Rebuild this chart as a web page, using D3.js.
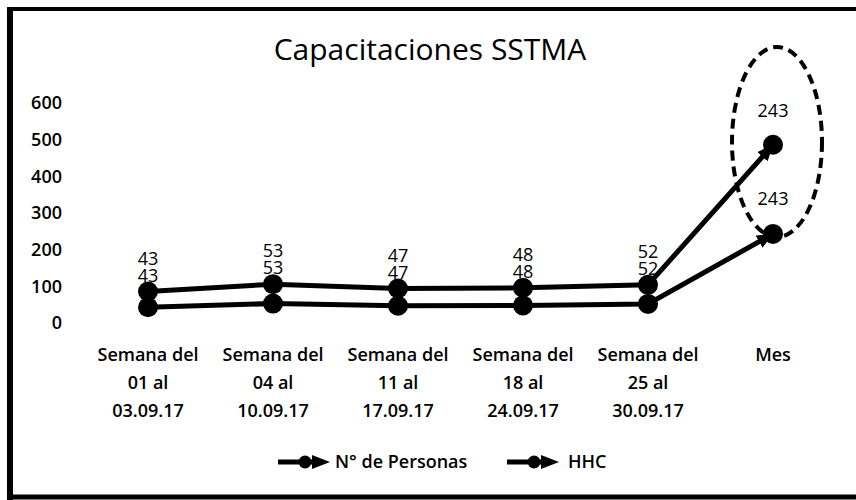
<!DOCTYPE html>
<html>
<head>
<meta charset="utf-8">
<script src="https://cdn.jsdelivr.net/npm/d3@7"></script>
<style>
  html, body { margin: 0; padding: 0; background: #fff; }
  svg { display: block; font-family: "Open Sans", sans-serif; }
</style>
</head>
<body>
<div id="chart"></div>
<script>
// datos
const categories = [
  ['Semana del', '01 al', '03.09.17'],
  ['Semana del', '04 al', '10.09.17'],
  ['Semana del', '11 al', '17.09.17'],
  ['Semana del', '18 al', '24.09.17'],
  ['Semana del', '25 al', '30.09.17'],
  ['Mes']
]
const personas = [43, 53, 47, 48, 52, 243]
const hhc = [43, 53, 47, 48, 52, 243]
const seriesNames = ['N° de Personas', 'HHC']
const yTicks = [0, 100, 200, 300, 400, 500, 600]

const width = 856
const height = 500

const svg = d3.select('#chart').append('svg')
  .attr('width', width)
  .attr('height', height)

// flecha para el final de las lineas
const defs = svg.append('defs')
defs.append('marker')
  .attr('id', 'arrow')
  .attr('viewBox', '0 0 16 14')
  .attr('refX', 16)
  .attr('refY', 7)
  .attr('markerWidth', 16)
  .attr('markerHeight', 14)
  .attr('markerUnits', 'userSpaceOnUse')
  .attr('orient', 'auto')
  .append('path')
  .attr('d', 'M0,0 L16,7 L0,14 Z')
  .attr('fill', '#000')

// marco
svg.append('line').attr('x1', 7).attr('x2', width).attr('y1', 9).attr('y2', 9)
  .attr('stroke', '#000').attr('stroke-width', 4)
svg.append('line').attr('x1', 10).attr('x2', 10).attr('y1', 7).attr('y2', height)
  .attr('stroke', '#000').attr('stroke-width', 6)
svg.append('line').attr('x1', 7).attr('x2', width).attr('y1', 497).attr('y2', 497)
  .attr('stroke', '#000').attr('stroke-width', 5)

// titulo
svg.append('text')
  .attr('x', 430)
  .attr('y', 60)
  .attr('text-anchor', 'middle')
  .attr('font-size', 30)
  .text('Capacitaciones SSTMA')

const x = d3.scaleBand()
  .domain(d3.range(categories.length))
  .range([85.5, 835.5])
const cx = i => x(i) + x.bandwidth() / 2

const y = d3.scaleLinear()
  .domain([0, 600])
  .range([323, 103])

// eje Y (solo etiquetas)
svg.append('g')
  .attr('font-weight', 600)
  .selectAll('text')
  .data(yTicks)
  .join('text')
  .attr('x', 62)
  .attr('y', d => y(d))
  .attr('dy', '0.35em')
  .attr('text-anchor', 'end')
  .attr('font-size', 18)
  .text(d => d)

// eje X (etiquetas multilinea)
const catG = svg.append('g').attr('font-weight', 600)
categories.forEach((lines, i) => {
  const t = catG.append('text')
    .attr('text-anchor', 'middle')
    .attr('font-size', 18)
  lines.forEach((ln, j) => {
    t.append('tspan')
      .attr('x', cx(i))
      .attr('y', 361 + j * 28)
      .text(ln)
  })
})

// lineas apiladas
const rows = personas.map((p, i) => ({ i, personas: p, hhc: hhc[i] }))
const stacked = d3.stack().keys(['personas', 'hhc'])(rows)

const line = d3.line()
  .x(d => cx(d.data.i))
  .y(d => y(d[1]))

svg.append('g')
  .selectAll('path')
  .data(stacked)
  .join('path')
  .attr('d', line)
  .attr('fill', 'none')
  .attr('stroke', '#000')
  .attr('stroke-width', 5)
  .attr('marker-end', 'url(#arrow)')

// etiquetas de datos
const last = categories.length - 1
const labelG = svg.append('g')
  .attr('font-size', 18)
  .attr('text-anchor', 'middle')
rows.forEach((r, i) => {
  const topY = y(stacked[1][i][1])
  const lowY = y(stacked[0][i][1])
  let topLabel, lowLabel
  if (i === last) {
    topLabel = topY - 34
    lowLabel = lowY - 35
  } else {
    topLabel = topY - 16
    lowLabel = topLabel - 17
  }
  labelG.append('text').attr('x', cx(i)).attr('y', lowLabel).attr('dy', '0.35em').text(r.personas)
  labelG.append('text').attr('x', cx(i)).attr('y', topLabel).attr('dy', '0.35em').text(r.hhc)
})

// marcadores
svg.append('g')
  .selectAll('g')
  .data(stacked)
  .join('g')
  .selectAll('circle')
  .data(d => d)
  .join('circle')
  .attr('cx', d => cx(d.data.i))
  .attr('cy', d => y(d[1]))
  .attr('r', 10)
  .attr('fill', '#000')

// elipse punteada alrededor del mes
svg.append('ellipse')
  .attr('cx', 777)
  .attr('cy', 142)
  .attr('rx', 45)
  .attr('ry', 95)
  .attr('fill', 'none')
  .attr('stroke', '#000')
  .attr('stroke-width', 4)
  .attr('stroke-dasharray', '10 6')

// leyenda
const legend = svg.append('g')
const legendPos = [{ x: 278, tx: 335 }, { x: 507, tx: 568 }]
seriesNames.forEach((name, i) => {
  const g = legend.append('g').attr('transform', `translate(${legendPos[i].x},462)`)
  g.append('line').attr('x1', 0).attr('x2', 36).attr('y1', 0).attr('y2', 0)
    .attr('stroke', '#000').attr('stroke-width', 5)
  g.append('circle').attr('cx', 27).attr('cy', 0).attr('r', 6.5).attr('fill', '#000')
  g.append('path').attr('d', 'M34,-7 L52,0 L34,7 Z').attr('fill', '#000')
  legend.append('text')
    .attr('x', legendPos[i].tx)
    .attr('y', 462)
    .attr('dy', '0.35em')
    .attr('font-size', 18)
    .attr('font-weight', 600)
    .text(name)
})
</script>
</body>
</html>
